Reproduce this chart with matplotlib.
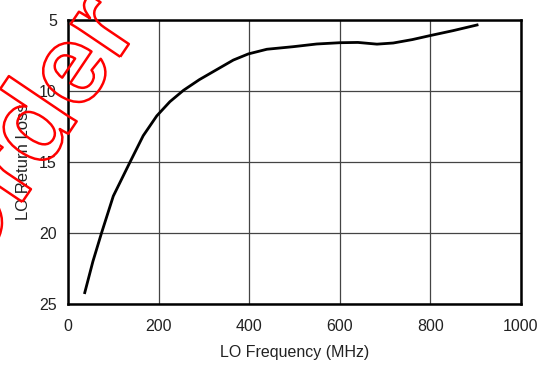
#!/usr/bin/env python3

import numpy as np
import matplotlib.pyplot as plt
import matplotlib.patheffects as pe

freq_mhz = [37, 55, 74, 100, 137, 166, 196, 225, 255, 290, 328, 365, 398,
            439, 497, 549, 600, 640, 682, 718, 760, 799, 850, 903]
return_loss = [24.2, 22.0, 20.0, 17.4, 15.0, 13.15, 11.75, 10.75, 9.95, 9.2,
               8.5, 7.82, 7.39, 7.06, 6.88, 6.69, 6.6, 6.58, 6.7, 6.62, 6.38,
               6.1, 5.75, 5.35]
xticks = [0, 200, 400, 600, 800, 1000]
yticks = [5, 10, 15, 20, 25]

plt.rcParams['font.family'] = ['Liberation Sans', 'DejaVu Sans']

fig = plt.figure(figsize=(5.43, 3.66), dpi=100)
W, H = 543, 366
ax = fig.add_axes([68 / W, (H - 304) / H, (521 - 68) / W, (304 - 20) / H])

ax.plot(freq_mhz, return_loss, color='black', linewidth=2)

ax.set_xlim(0, 1000)
ax.set_ylim(25, 5)
ax.set_xticks(xticks)
ax.set_yticks(yticks)
ax.grid(True, color='#444444', linewidth=0.9)
ax.tick_params(length=0, labelsize=11.5, colors='#222222')
ax.tick_params(axis='x', pad=11)
ax.tick_params(axis='y', pad=8)
for s in ax.spines.values():
    s.set_linewidth(1.8)
    s.set_color('black')

ax.set_xlabel('LO Frequency (MHz)', fontsize=11.5, color='#222222', labelpad=8)
ax.set_ylabel('LO Return Loss', fontsize=12, color='#222222', labelpad=6)

# red outlined watermark, anchored at its baseline start
fig.text(-31 / W, 1 - 281 / H, 'Order Now', rotation=56,
         rotation_mode='anchor', ha='left', va='baseline',
         fontsize=81, fontweight='bold', color='none',
         path_effects=[pe.Stroke(linewidth=1.8, foreground='red')])

plt.savefig('out.png', dpi=100)
plt.close()
